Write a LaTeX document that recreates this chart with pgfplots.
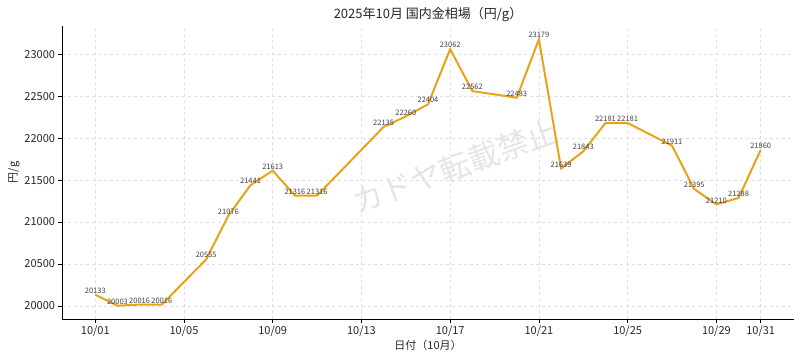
\documentclass[border=0pt]{standalone}
\usepackage{pgfplots}
\pgfplotsset{compat=1.18}
\usepackage{fontspec}
\setmainfont{Noto Sans CJK JP}
\usetikzlibrary{calc}
\definecolor{lineor}{HTML}{E8A317}
\begin{document}
\begin{tikzpicture}
\begin{axis}[
  scale only axis, width=732pt, height=293pt,
  xmin=-0.5, xmax=32.5, ymin=19844, ymax=23338,
  axis x line*=bottom, axis y line*=left,
  axis line style={black, line width=0.8pt, -},
  xtick={1,5,9,13,17,21,25,29,31},
  xticklabels={10/01,10/05,10/09,10/13,10/17,10/21,10/25,10/29,10/31},
  ytick={20000,20500,21000,21500,22000,22500,23000},
  scaled y ticks=false,
  yticklabel style={/pgf/number format/1000 sep={}, /pgf/number format/fixed},
  /pgf/number format/assume math mode=true,
  tick align=outside, major tick length=3.5pt,
  tick style={black, line width=0.6pt},
  ticklabel style={font=\fontsize{11}{13}\selectfont, text=black!85},
  grid=major, grid style={dashed, gray!25, line width=0.5pt},
  title={2025年10月 国内金相場（円/g）},
  title style={font=\fontsize{13}{15}\selectfont, text=black!85, yshift=-5pt},
  xlabel={日付（10月）}, ylabel={円/g},
  label style={font=\fontsize{11}{13}\selectfont, text=black!85},
  xlabel style={yshift=4pt}, ylabel style={yshift=-2pt},
  clip=false,
]
\node[rotate=20, text=gray!20, font=\fontsize{31}{33}\selectfont] at (rel axis cs:0.537,0.52) {カドヤ転載禁止};
\addplot[color=lineor, line width=2pt, mark=none,
  nodes near coords, point meta=explicit,
  nodes near coords style={font=\fontsize{7.5}{8}\selectfont, text=black!75, anchor=south, inner sep=0.3pt,
    /pgf/number format/.cd, fixed, precision=0, 1000 sep={}}]
table[meta=y] {
x y
1 20133
2 20003
3 20016
4 20016
6 20555
7 21076
8 21441
9 21613
10 21316
11 21316
14 22135
15 22260
16 22404
17 23062
18 22562
20 22483
21 23179
22 21639
23 21843
24 22181
25 22181
27 21911
28 21395
29 21210
30 21288
31 21860
};
\end{axis}
\pgfresetboundingbox
\path[use as bounding box] ($(current axis.south west)+(-62pt,-41pt)$) rectangle ($(current axis.north east)+(6pt,26pt)$);
\end{tikzpicture}
\end{document}
